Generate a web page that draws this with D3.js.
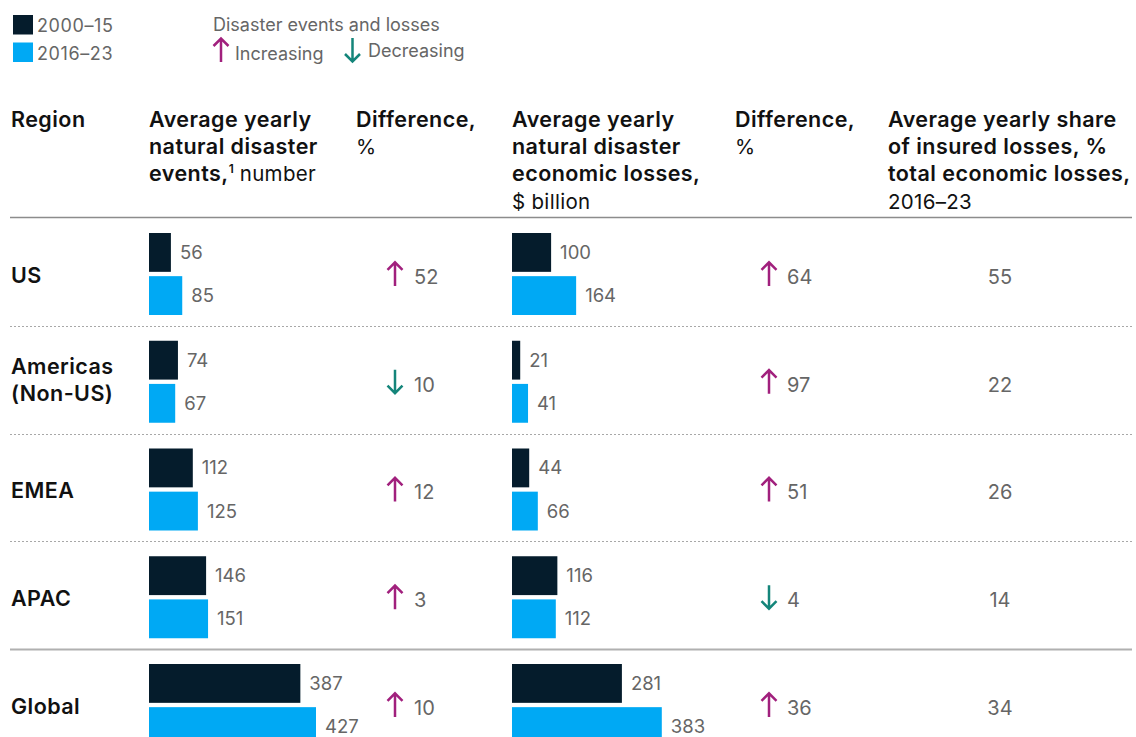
<!DOCTYPE html>
<html>
<head>
<meta charset="utf-8">
<script src="https://cdn.jsdelivr.net/npm/d3@7"></script>
<style>
  html, body { margin: 0; padding: 0; background: #fff; }
  svg { display: block; font-family: Inter, "Liberation Sans", Arial, sans-serif; }
</style>
</head>
<body>
<svg id="chart" width="1136" height="737"></svg>
<script>
// Regions and values
const regions = ["US", "Americas (Non-US)", "EMEA", "APAC", "Global"];
const regionLines = [["US"], ["Americas", "(Non-US)"], ["EMEA"], ["APAC"], ["Global"]];
const periods = ["2000–15", "2016–23"];
const events2000_15 = [56, 74, 112, 146, 387];
const events2016_23 = [85, 67, 125, 151, 427];
const eventsDiff = [52, -10, 12, 3, 10];
const losses2000_15 = [100, 21, 44, 116, 281];
const losses2016_23 = [164, 41, 66, 112, 383];
const lossesDiff = [64, 97, 51, -4, 36];
const insuredShare = [55, 22, 26, 14, 34];

const colors = { "2000–15": "#051c2c", "2016–23": "#00a9f4" };
const upColor = "#a1207d";
const downColor = "#14857a";
const gray = "#666666";
const boldSize = 21.5, boldSpacing = 0.45;

const svg = d3.select("#chart");

// Scales
const rowY = d3.scaleBand().domain(regions).range([218, 218 + 5 * 107.75]);
const barY = d3.scaleBand().domain(periods).range([15, 97]).paddingInner(0.1);
const x = d3.scaleLinear().domain([0, 427]).range([0, 167]);

const colX = { region: 11, events: 149, evDiff: 356, losses: 512, lsDiff: 735, share: 888 };

// Arrow glyph centred at (0,0)
function arrowPath(up) {
  const h = 12, w = 7.5;
  if (up) return `M0,${h} L0,${-h + 1} M${-w},${-h + 8} L0,${-h + 0.5} L${w},${-h + 8}`;
  return `M0,${-h} L0,${h - 1} M${-w},${h - 8} L0,${h - 0.5} L${w},${h - 8}`;
}
function drawArrow(g, cx, cy, up) {
  g.append("path")
    .attr("d", arrowPath(up))
    .attr("transform", `translate(${cx},${cy})`)
    .attr("fill", "none")
    .attr("stroke", up ? upColor : downColor)
    .attr("stroke-width", 2.5);
}

// Legend
const legend = svg.append("g").attr("class", "legend");
periods.forEach((p, i) => {
  legend.append("rect").attr("x", 13).attr("y", 15 + i * 27.5).attr("width", 20).attr("height", 19.5)
    .attr("fill", colors[p]);
  legend.append("text").attr("x", 37).attr("y", 31.5 + i * 28.5).attr("font-size", 18)
    .attr("letter-spacing", 0.6).attr("fill", gray).text(p);
});
legend.append("text").attr("x", 213).attr("y", 31).attr("font-size", 18).attr("fill", gray).text("Disaster events and losses");
drawArrow(legend, 221, 50, true);
legend.append("text").attr("x", 235).attr("y", 60).attr("font-size", 18).attr("fill", gray).text("Increasing");
drawArrow(legend, 352.5, 50, false);
legend.append("text").attr("x", 368).attr("y", 57).attr("font-size", 18).attr("fill", gray).text("Decreasing");

// Column headers: each line is a list of [text, bold, kind]
const headers = [
  { x: colX.region, lines: [[["Region", true]]] },
  { x: colX.events, lines: [[["Average yearly", true]], [["natural disaster", true]], [["events,", true], ["1", true, "sup"], [" number", false, "after-sup"]]] },
  { x: colX.evDiff, lines: [[["Difference,", true]], [["%", false]]] },
  { x: colX.losses, lines: [[["Average yearly", true]], [["natural disaster", true]], [["economic losses,", true]], [["$ billion", false]]] },
  { x: colX.lsDiff, lines: [[["Difference,", true]], [["%", false]]] },
  { x: colX.share, lines: [[["Average yearly share", true]], [["of insured losses, %", true]], [["total economic losses,", true]], [["2016–23", false]]] }
];
const head = svg.append("g").attr("class", "headers");
headers.forEach(h => {
  h.lines.forEach((line, li) => {
    const t = head.append("text").attr("x", h.x).attr("y", 127 + li * 27.2).attr("fill", "#111");
    line.forEach(([s, bold, kind]) => {
      const ts = t.append("tspan").text(s);
      if (bold) ts.attr("font-weight", 600).attr("font-size", boldSize).attr("letter-spacing", boldSpacing);
      else ts.attr("font-weight", "normal").attr("font-size", 20.5).attr("letter-spacing", 0.3);
      if (kind === "sup") ts.attr("font-size", 12).attr("dy", -8).attr("letter-spacing", 0);
      if (kind === "after-sup") ts.attr("dy", 8);
    });
  });
});

// Separators
svg.append("line").attr("x1", 10).attr("x2", 1132).attr("y1", 217.5).attr("y2", 217.5)
  .attr("stroke", "#8c8c8c").attr("stroke-width", 1.5);
regions.slice(1).forEach(r => {
  const y = Math.round(rowY(r)) + 0.5;
  const last = r === "Global";
  svg.append("line").attr("x1", 10).attr("x2", 1132).attr("y1", y).attr("y2", y)
    .attr("stroke", last ? "#b0b0b0" : "#a8a8a8")
    .attr("stroke-width", last ? 2 : 1.2)
    .attr("stroke-dasharray", last ? null : "2,2");
});

// Rows
const rows = svg.append("g").selectAll("g.row").data(regions).join("g")
  .attr("class", "row")
  .attr("transform", d => `translate(0,${rowY(d)})`);

rows.each(function (region, i) {
  const g = d3.select(this);
  const mid = rowY.bandwidth() / 2;

  // Region name
  const lines = regionLines[i];
  lines.forEach((s, li) => {
    g.append("text").attr("x", colX.region)
      .attr("y", mid + (lines.length > 1 ? 8 : 11) + (li - (lines.length - 1) / 2) * 27)
      .attr("font-size", boldSize).attr("letter-spacing", boldSpacing)
      .attr("font-weight", 600).attr("fill", "#111").text(s);
  });

  // Bar groups
  const groups = [
    { x0: colX.events, vals: [events2000_15[i], events2016_23[i]] },
    { x0: colX.losses, vals: [losses2000_15[i], losses2016_23[i]] }
  ];
  groups.forEach(grp => {
    periods.forEach((p, pi) => {
      const v = grp.vals[pi];
      g.append("rect").attr("x", grp.x0).attr("y", barY(p))
        .attr("width", x(v)).attr("height", barY.bandwidth()).attr("fill", colors[p]);
      g.append("text").attr("x", grp.x0 + x(v) + 9)
        .attr("y", barY(p) + barY.bandwidth() / 2 + 6.5)
        .attr("font-size", 18.5).attr("fill", gray).text(v);
    });
  });

  // Difference columns
  [{ ax: 395, tx: 414, v: eventsDiff[i] }, { ax: 769, tx: 787, v: lossesDiff[i] }].forEach(d => {
    drawArrow(g, d.ax, mid + 2, d.v >= 0);
    g.append("text").attr("x", d.tx).attr("y", mid + 12).attr("font-size", 20).attr("fill", gray)
      .text(Math.abs(d.v));
  });

  // Insured share
  g.append("text").attr("x", 1000).attr("y", mid + 12).attr("text-anchor", "middle")
    .attr("font-size", 20).attr("fill", gray).text(insuredShare[i]);
});
</script>
</body>
</html>
